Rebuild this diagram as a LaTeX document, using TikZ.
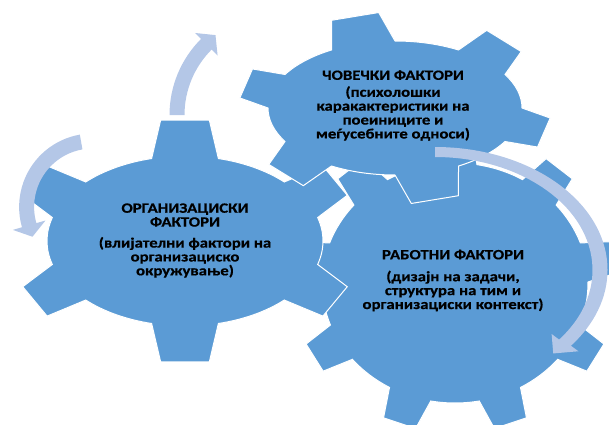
\documentclass[tikz,border=0pt]{standalone}
\usepackage{fontspec}
\newfontfamily\gearfont[FakeStretch=1.18,FakeBold=0.5]{Carlito}
\definecolor{gearblue}{HTML}{5B9BD5}
\definecolor{arrowblue}{HTML}{B4C7E7}
\tikzset{
  gearstyle/.style={fill=gearblue, draw=white, line width=1pt, line join=miter},
  arrowstyle/.style={fill=arrowblue},
  gearlabel/.style={font=\gearfont\bfseries\fontsize{14.2}{13.9}\selectfont, align=center, text=black, inner sep=0pt}
}
% gear parameters: cx cy rx-outer ry-outer rx-body ry-body n offset tip-half-angle
\newcommand\setgear[9]{\def\gcx{#1}\def\gcy{#2}\def\grxo{#3}\def\gryo{#4}\def\grxb{#5}\def\gryb{#6}\def\gn{#7}\def\goff{#8}\def\gdt{#9}}
\newcommand\drawgear[1]{%
  \pgfmathsetmacro\gstep{360/\gn}%
  \pgfmathtruncatemacro\glast{\gn-1}%
  \path[#1] ({\gcx+\grxb*cos(\goff-\gdr)},{\gcy+\gryb*sin(\goff-\gdr)})
    \foreach \k in {0,...,\glast}{
      -- ({\gcx+\grxo*cos(\goff+\k*\gstep-\gdt)},{\gcy+\gryo*sin(\goff+\k*\gstep-\gdt)})
      -- ({\gcx+\grxo*cos(\goff+\k*\gstep+\gdt)},{\gcy+\gryo*sin(\goff+\k*\gstep+\gdt)})
      -- ({\gcx+\grxb*cos(\goff+\k*\gstep+\gdr)},{\gcy+\gryb*sin(\goff+\k*\gstep+\gdr)})
      arc[start angle={\goff+\k*\gstep+\gdr}, end angle={\goff+(\k+1)*\gstep-\gdr}, x radius=\grxb pt, y radius=\gryb pt]
    } -- cycle;
}
% circular arrow: cx cy rx ry a1 a2 ; uses \awx \awy \ahx \ahy \aL
\newcommand\carrow[6]{%
  \pgfmathsetmacro\as{ifthenelse(#6>#5,1,-1)}%
  \pgfmathsetmacro\tx{-\as*#3*sin(#6)/100}%
  \pgfmathsetmacro\ty{\as*#4*cos(#6)/100}%
  \pgfmathsetmacro\tn{sqrt(\tx*\tx+\ty*\ty)}%
  \pgfmathsetmacro\px{#1+#3*cos(#6)+\aL*\tx/\tn}%
  \pgfmathsetmacro\py{#2+#4*sin(#6)+\aL*\ty/\tn}%
  \pgfmathsetmacro\rxo{#3+\awx}\pgfmathsetmacro\ryo{#4+\awy}%
  \pgfmathsetmacro\rxi{#3-\awx}\pgfmathsetmacro\ryi{#4-\awy}%
  \path[arrowstyle] ({#1+\rxo*cos(#5)},{#2+\ryo*sin(#5)})
    arc[start angle=#5, end angle=#6, x radius=\rxo pt, y radius=\ryo pt]
    -- ({#1+(#3+\ahx)*cos(#6)},{#2+(#4+\ahy)*sin(#6)})
    -- (\px,\py)
    -- ({#1+(#3-\ahx)*cos(#6)},{#2+(#4-\ahy)*sin(#6)})
    -- ({#1+\rxi*cos(#6)},{#2+\ryi*sin(#6)})
    arc[start angle=#6, end angle=#5, x radius=\rxi pt, y radius=\ryi pt]
    -- cycle;
}
\begin{document}
\begin{tikzpicture}[x=1pt,y=1pt]
\useasboundingbox (0,0) rectangle (609,424);
\clip (0,0) rectangle (609,424);
% work gear (9 teeth)
\setgear{455}{141}{163}{150}{133}{120}{9}{10}{6}\def\gdr{9.5}
\drawgear{gearstyle}
% left gear (6 teeth)
\setgear{185}{183}{175}{122}{138}{85}{6}{30}{8}\def\gdr{14}
\drawgear{gearstyle}
% top gear (6 teeth)
\setgear{395}{316}{156}{96}{127}{67}{6}{-15}{9}\def\gdr{15}
\drawgear{gearstyle}
% texts
\node[gearlabel] (human) at (393,318.5) {ЧОВЕЧКИ ФАКТОРИ\\[3pt](психолошки\\каракактеристики на\\поеиниците и\\меѓусебните односи)};
\node[gearlabel] (org) at (185,183.5) {ОРГАНИЗАЦИСКИ\\ФАКТОРИ\\[7pt](влијателни фактори на\\организациско\\окружување)};
\node[gearlabel] (work) at (453,143.5) {РАБОТНИ ФАКТОРИ\\[8pt](дизајн на задачи,\\структура на тим и\\организациски контекст)};
% arrows
\def\awx{7.5}\def\awy{7.5}\def\ahx{16}\def\ahy{16}\def\aL{13}
\carrow{277}{309}{100}{100}{180}{135}
\def\awx{7.5}\def\awy{7.5}\def\ahx{17}\def\ahy{17}\def\aL{12}
\carrow{92.6}{217}{66}{66}{100}{196}
\def\awx{7.5}\def\awy{5}\def\ahx{17}\def\ahy{14}\def\aL{16}
\carrow{435}{154}{165}{118}{90}{-38}
\end{tikzpicture}
\end{document}
